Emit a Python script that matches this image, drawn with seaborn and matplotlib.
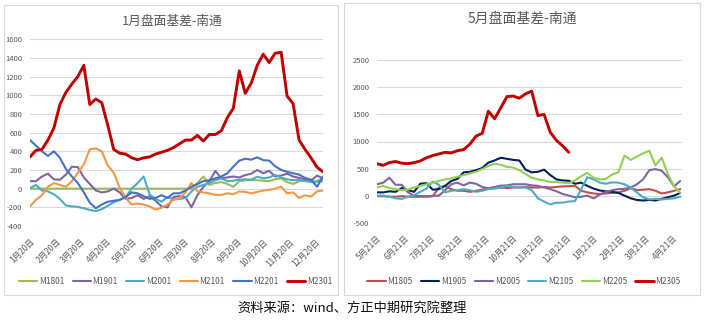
import numpy as np
import pandas as pd
import matplotlib
matplotlib.use("Agg")
import matplotlib.pyplot as plt
import seaborn as sns
from matplotlib.patches import Rectangle

sns.set_theme(style="white")
plt.rcParams["font.family"] = ["Noto Sans CJK SC", "DejaVu Sans"]
plt.rcParams["axes.unicode_minus"] = False

# ---------------- data: left chart (January contracts) ----------------
left_title = "1月盘面基差-南通"
left_dates = pd.date_range("2021-01-20", periods=50, freq="7D")
left_ticks = pd.to_datetime(["2021-%02d-20" % m for m in range(1, 13)])
left_names = ["M1801", "M1901", "M2001", "M2101", "M2201", "M2301"]
m1801 = [0, 0, 0, 0, 0, 0, 0, 0, 0, 0,
         0, 0, 0, 0, 0, 0, 0, 0, 0, 0,
         0, 0, 0, 0, 0, 0, 0, 0, 60, 130,
         40, 60, 70, 50, 20, 80, 90, 95, 90, 85,
         80, 100, 110, 70, 50, 80, 90, 70, 70, 80]
m1901 = [80, 80, 130, 160, 100, 95, 150, 235, 230, 120,
         50, -20, -40, -30, 0, -40, -110, -100, -70, -110,
         -80, -130, -190, -200, -90, -80, -90, -200, -70, 20,
         80, 190, 110, 120, 130, 120, 145, 160, 200, 165,
         190, 130, 140, 160, 130, 115, 100, 85, 140, 110]
m2001 = [5, 40, -20, -30, -60, -110, -180, -190, -195, -210,
         -228, -240, -220, -185, -145, -120, -90, 0, 60, 130,
         -60, -110, -140, -90, -115, -110, -100, -30, 20, 40,
         60, 90, 110, 80, 85, 95, 100, 95, 128, 110,
         120, 147, 120, 100, 90, 95, 80, 75, 80, 110]
m2101 = [-190, -120, -70, 20, 60, 40, 20, 80, 170, 260,
         420, 430, 400, 250, 170, 10, -100, -170, -160, -170,
         -190, -225, -205, -170, -120, -100, -40, 60, -30, -40,
         -50, -67, -67, -50, -60, -30, -35, -50, -35, -20,
         -14, 0, 20, -50, -40, -100, -70, -85, -30, -20]
m2201 = [520, 460, 400, 350, 400, 330, 210, 130, 60, -40,
         -150, -210, -170, -140, -130, -120, -90, -40, -50, -80,
         -110, -100, -70, -100, -50, -50, -20, 20, 50, 80,
         90, 110, 130, 165, 235, 300, 320, 310, 335, 305,
         300, 240, 200, 180, 165, 150, 115, 95, 20, 130]
m2301 = [340, 410, 420, 520, 650, 900, 1030, 1120, 1200, 1320,
         900, 960, 920, 680, 420, 380, 370, 330, 310, 330,
         340, 370, 390, 410, 440, 480, 520, 520, 570, 510,
         580, 580, 620, 760, 860, 1260, 1020, 1130, 1320, 1440,
         1350, 1450, 1460, 990, 910, 520, 420, 330, 230, 180]
left_values = [m1801, m1901, m2001, m2101, m2201, m2301]
left_colors = ["#9BBB59", "#8064A2", "#4BACC6", "#F79646", "#4472C4", "#C00000"]
left_yticks = [-400, -200, 0, 200, 400, 600, 800, 1000, 1200, 1400, 1600]

# ---------------- data: right chart (May contracts) ----------------
right_title = "5月盘面基差-南通"
right_dates = pd.date_range("2021-05-21", periods=50, freq="7D")
right_ticks = pd.to_datetime(["2021-05-21", "2021-06-21", "2021-07-21", "2021-08-21",
                              "2021-09-21", "2021-10-21", "2021-11-21", "2021-12-21",
                              "2022-01-21", "2022-02-21", "2022-03-21", "2022-04-21"])
right_names = ["M1805", "M1905", "M2005", "M2105", "M2205", "M2305"]
m1805 = [-10, -10, -20, -20, -10, -20, -20, -20, -20, -10,
         150, 180, 120, 90, 90, 70, 90, 110, 140, 150,
         150, 140, 150, 150, 160, 150, 150, 160, 150, 160,
         170, 175, 180, 90, 60, 40, 30, 40, 50, 60,
         90, 140, 100, 110, 120, 90, 40, 60, 90, 120]
m1905 = [60, 60, 80, 70, 140, 100, 70, 220, 230, 110,
         120, 180, 270, 310, 430, 440, 470, 510, 610, 650,
         700, 680, 660, 650, 480, 430, 440, 480, 380, 300,
         280, 275, 220, 240, 180, 130, 95, 80, 70, 50,
         0, -50, -80, -90, -80, -90, -60, -30, 0, 50]
m2005 = [210, 240, 330, 200, 200, 60, 0, -10, -10, -5,
         0, 100, 210, 240, 190, 240, 220, 160, 130, 160,
         185, 190, 210, 210, 210, 190, 180, 150, 120, 80,
         30, 0, -30, -20, 0, -50, 20, 70, 100, 120,
         125, 150, 210, 300, 470, 490, 460, 340, 170, 270]
m2105 = [0, 0, -20, -50, -60, -20, 10, 70, 130, 260,
         200, 60, 90, 100, 120, 100, 70, 90, 120, 130,
         150, 180, 160, 150, 150, 100, -50, -110, -160, -130,
         -130, -110, -100, 120, 340, 300, 240, 220, 245, 240,
         210, 150, 60, -30, -70, -60, -70, -60, -50, -20]
m2205 = [150, 180, 140, 120, 100, 110, 150, 180, 210, 240,
         270, 300, 320, 350, 380, 410, 440, 490, 550, 590,
         570, 530, 520, 470, 400, 330, 300, 280, 250, 250,
         240, 230, 280, 360, 420, 330, 300, 310, 390, 430,
         740, 660, 720, 780, 830, 560, 700, 400, 170, 50]
m2305 = [590, 560, 610, 630, 600, 590, 610, 640, 700, 740,
         770, 800, 790, 830, 850, 950, 1100, 1150, 1560, 1420,
         1620, 1830, 1840, 1800, 1880, 1930, 1480, 1500, 1170, 1020,
         920, 800]
right_values = [m1805, m1905, m2005, m2105, m2205, m2305]
right_colors = ["#C0504D", "#002060", "#8064A2", "#4BACC6", "#92D050", "#C00000"]
right_yticks = [-500, 0, 500, 1000, 1500, 2000, 2500]

source_text = "资料来源：wind、方正中期研究院整理"

GRAY = "#595959"
W, H = 712, 322
fig = plt.figure(figsize=(W / 100, H / 100), dpi=100)
fig.patch.set_facecolor("white")

# panel frames
fig.add_artist(Rectangle((4 / W, 1 - 295 / H), 334 / W, 290 / H, transform=fig.transFigure,
                         fill=False, edgecolor="#D9D9D9", lw=0.8))
fig.add_artist(Rectangle((343.5 / W, 1 - 295 / H), 356.5 / W, 292 / H, transform=fig.transFigure,
                         fill=False, edgecolor="#D9D9D9", lw=0.8))

axL = fig.add_axes([30 / W, 1 - 226 / H, 293 / W, (226 - 39.2) / H])
axR = fig.add_axes([377 / W, 1 - 222.7 / H, 305 / W, (222.7 - 60.3) / H])


def draw(ax, dates, names, values, colors, yticks, xticks, xlim):
    for name, vals, col in zip(names, values, colors):
        lw = 2.1 if col == "#C00000" else 1.5
        sns.lineplot(x=dates[:len(vals)], y=vals, ax=ax, color=col, lw=lw,
                     label=name, estimator=None, legend=False)
    ax.set_ylim(yticks[0], yticks[-1])
    ax.set_yticks(yticks)
    ax.set_yticklabels([str(v) for v in yticks])
    ax.set_xlim(xlim)
    ax.set_xticks(xticks)
    ax.set_xticklabels([f"{d.month}月{d.day}日" for d in xticks])
    for lbl in ax.get_xticklabels():
        lbl.set_rotation(45)
        lbl.set_ha("right")
        lbl.set_rotation_mode("anchor")
    ax.tick_params(axis="y", labelsize=5.5, colors=GRAY, length=0, pad=5.5)
    ax.tick_params(axis="x", labelsize=6, colors=GRAY, length=0, pad=8)
    ax.grid(False)
    ax.yaxis.grid(True, color="#D9D9D9", lw=0.8)
    ax.set_axisbelow(True)
    for s in ax.spines.values():
        s.set_visible(False)
    ax.set_xlabel("")
    ax.set_ylabel("")
    ax.set_facecolor("white")


draw(axL, left_dates, left_names, left_values, left_colors, left_yticks, left_ticks,
     (pd.Timestamp("2021-01-20"), pd.Timestamp("2021-12-29")))
draw(axR, right_dates, right_names, right_values, right_colors, right_yticks, right_ticks,
     (pd.Timestamp("2021-05-21"), pd.Timestamp("2022-05-01")))

for ax, cx in ((axL, 175.5 / W), (axR, 524 / W)):
    h, l = ax.get_legend_handles_labels()
    leg = fig.legend(h, l, loc="center", bbox_to_anchor=(cx, 1 - 281 / H),
                     bbox_transform=fig.transFigure, ncol=6, frameon=False,
                     fontsize=6, handlelength=2.2, handletextpad=0.2, columnspacing=1.0)
    for t in leg.get_texts():
        t.set_color(GRAY)

fig.text(172.5 / W, 1 - 21.5 / H, left_title, ha="center", va="center", fontsize=9.2, color=GRAY)
fig.text(522 / W, 1 - 19 / H, right_title, ha="center", va="center", fontsize=10, color=GRAY)
fig.text(352.5 / W, 1 - 308 / H, source_text, ha="center", va="center", fontsize=9.5, color="#111111")

fig.savefig("out.png", dpi=100, facecolor="white")
